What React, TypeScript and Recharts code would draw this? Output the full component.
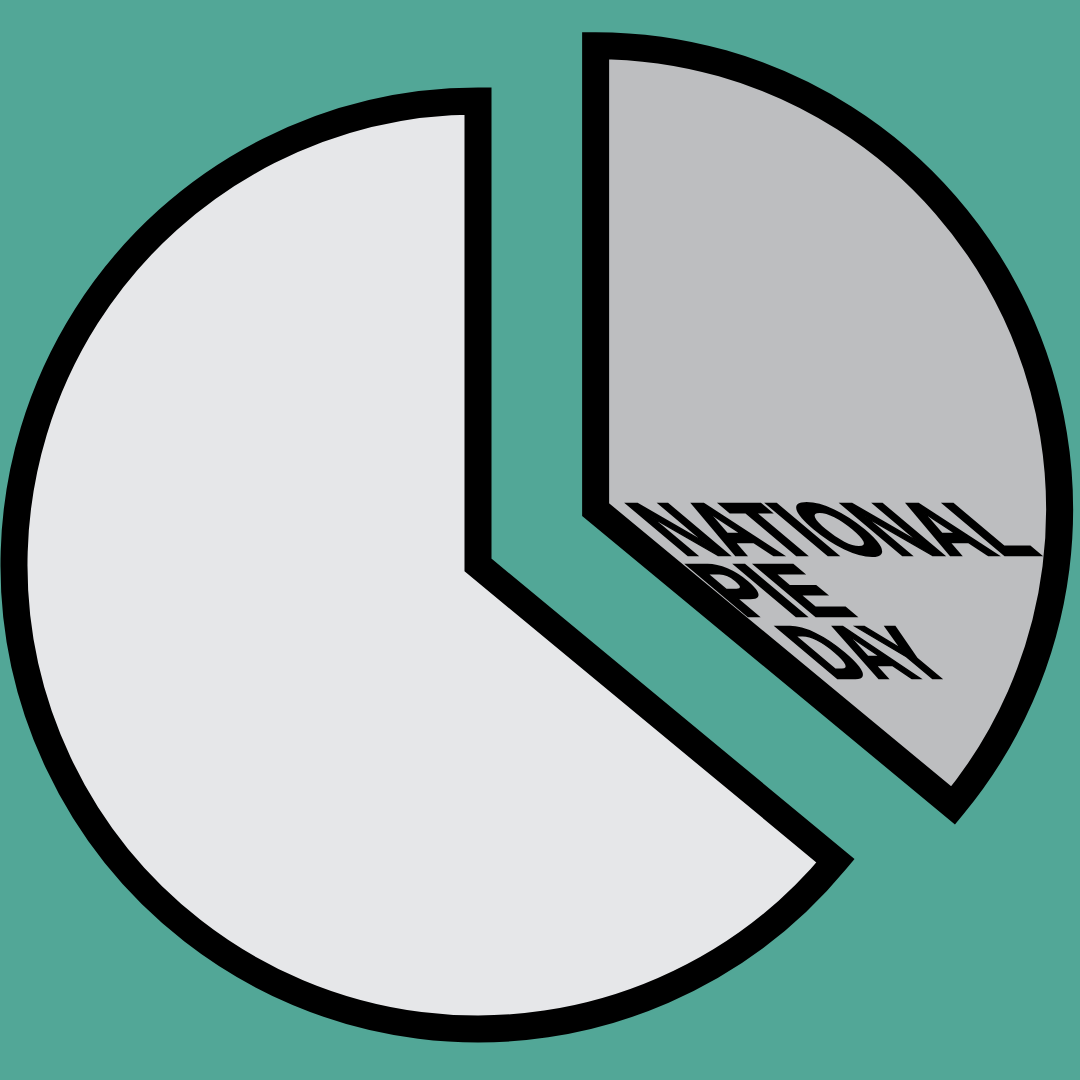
import { PieChart, Pie, Cell } from 'recharts'

// clockwise from 12 o'clock
const categories = ['National Pie Day', 'Everything else']
const shares = [36, 64]
const sliceColors = ['#bdbec0', '#e6e7e9']
const titleLines = ['NATIONAL', 'PIE', 'DAY']

const data = categories.map((name, i) => ({ name, value: shares[i] }))

const BG = '#52a797'
const CX = 478
const CY = 565
const RADIUS = 464
const EXPLODE = 130
const START = 90
const END = -270

// pull the first slice out along its own mid angle
const total = shares.reduce((a, b) => a + b, 0)
const midAngle = START - ((shares[0] / total) * 360) / 2
const rad = (midAngle * Math.PI) / 180
const outCx = CX + EXPLODE * Math.cos(rad)
const outCy = CY - EXPLODE * Math.sin(rad)

// baseline-left of each title line, relative to the exploded slice's tip
const titleLayout = [
  { dx: 87, dy: 45, w: 360 },
  { dx: 147, dy: 106, w: 116 },
  { dx: 237, dy: 168, w: 124 },
]

function TitleLabel(props: any) {
  if (props.index !== 0) return null
  return (
    <g>
      {titleLines.map((line, i) => (
        <text
          key={line}
          x={0}
          y={0}
          transform={`translate(${outCx + titleLayout[i].dx}, ${outCy + titleLayout[i].dy}) skewX(50)`}
          textLength={titleLayout[i].w}
          lengthAdjust="spacingAndGlyphs"
          fontFamily="'Liberation Sans', Arial, sans-serif"
          fontWeight="bold"
          fontSize={74}
          fill="#000"
          stroke="#000"
          strokeWidth={2.5}
        >
          {line}
        </text>
      ))}
    </g>
  )
}

export default function App() {
  return (
    <div style={{ position: 'fixed', left: 0, top: 0, width: 1080, height: 1080, background: BG }}>
      <PieChart width={1080} height={1080} margin={{ top: 0, right: 0, bottom: 0, left: 0 }}>
        {/* the rest of the pie, left in place */}
        <Pie
          data={data}
          dataKey="value"
          nameKey="name"
          cx={CX}
          cy={CY}
          outerRadius={RADIUS}
          startAngle={START}
          endAngle={END}
          stroke="#000"
          strokeWidth={27}
          isAnimationActive={false}
        >
          {data.map((d, i) => (
            <Cell key={d.name} fill={i === 0 ? 'none' : sliceColors[i]} stroke={i === 0 ? 'none' : '#000'} />
          ))}
        </Pie>
        {/* the exploded slice */}
        <Pie
          data={data}
          dataKey="value"
          nameKey="name"
          cx={outCx}
          cy={outCy}
          outerRadius={RADIUS}
          startAngle={START}
          endAngle={END}
          stroke="#000"
          strokeWidth={27}
          label={TitleLabel}
          labelLine={false}
          isAnimationActive={false}
        >
          {data.map((d, i) => (
            <Cell key={d.name} fill={i === 0 ? sliceColors[i] : 'none'} stroke={i === 0 ? '#000' : 'none'} />
          ))}
        </Pie>
      </PieChart>
    </div>
  )
}
